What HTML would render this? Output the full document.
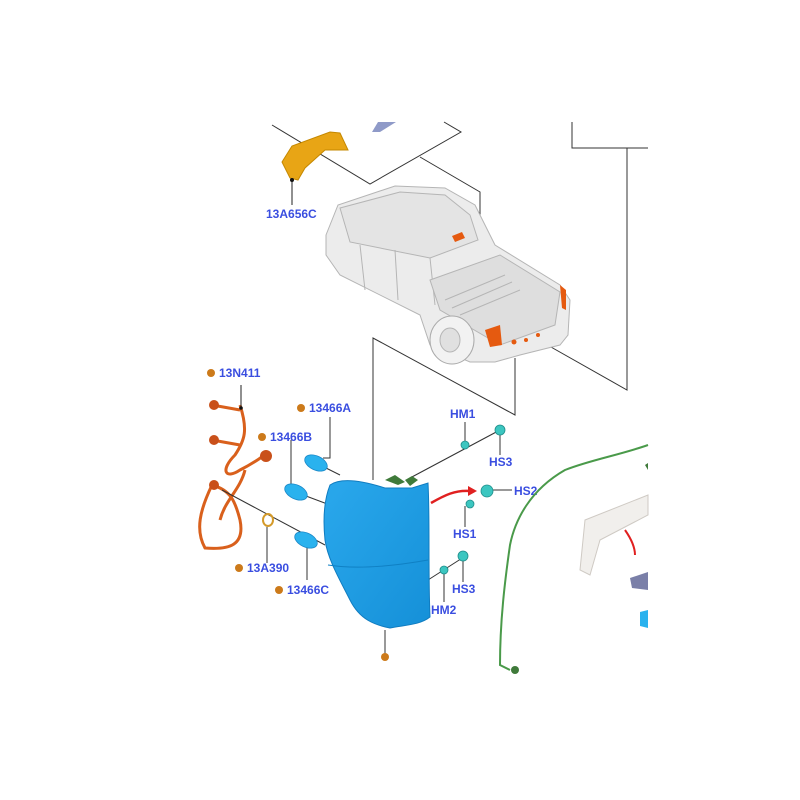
<!DOCTYPE html>
<html><head><style>
html,body{margin:0;padding:0;background:#fff;}
svg{display:block}
text{font-family:"Liberation Sans",sans-serif;font-size:12px;font-weight:bold;fill:#3a4ee0}
</style></head><body>
<svg width="800" height="800" viewBox="0 0 800 800" xmlns="http://www.w3.org/2000/svg">
<defs>
<linearGradient id="bl" x1="0" y1="0" x2="1" y2="1"><stop offset="0" stop-color="#2aa8ec"/><stop offset="1" stop-color="#1590d8"/></linearGradient>
</defs>
<g stroke="#333" stroke-width="1" fill="none">
<polyline points="272,125 370,184 461,132 444,122"/>
<polyline points="420,157 480,192 480,253 458,240"/>
<polyline points="572,122 572,148 648,148"/>
<polyline points="627,148 627,390 535,338"/>
<polyline points="373,480 373,338 515,415 515,358"/>
</g>
<path d="M372,132 L378,122 L396,122 L380,132Z" fill="#8f9ac8"/>
<path d="M282,162 L292,146 L330,132 L340,133 L348,150 L325,150 L305,168 L298,180 L290,178Z" fill="#e8a515" stroke="#c58800" stroke-width="1"/>
<line x1="292" y1="180" x2="292" y2="205" stroke="#222"/>
<circle cx="292" cy="180" r="2" fill="#111"/>
<text x="266" y="218">13A656C</text>
<!-- truck -->
<g fill="#ececec" stroke="#b5b5b5" stroke-width="1">
<path d="M326,235 L338,205 L395,186 L445,188 L475,205 L495,245 L560,285 L570,300 L568,335 L560,345 L520,355 L495,362 L470,362 L430,345 L420,315 L340,275 L326,255Z"/>
<path d="M340,208 L400,192 L445,195 L470,215 L478,240 L430,258 L350,242Z" fill="#e4e4e4"/>
<path d="M360,245 L365,290 M395,250 L398,300 M430,258 L435,305" fill="none"/>
<path d="M430,280 L500,255 L560,292 L555,325 L500,345 L440,310Z" fill="#dedede"/>
<path d="M445,300 L505,275 M452,308 L512,282 M460,315 L520,290" fill="none"/>
<ellipse cx="452" cy="340" rx="22" ry="24" fill="#f2f2f2" stroke="#aaa"/>
<ellipse cx="450" cy="340" rx="10" ry="12" fill="#e0e0e0"/>
</g>
<path d="M452,236 L462,232 L465,238 L455,242Z" fill="#e55a10"/>
<path d="M485,330 L500,325 L502,345 L490,347Z" fill="#e55a10"/>
<path d="M560,285 L566,290 L566,310 L562,308Z" fill="#e55a10"/>
<circle cx="514" cy="342" r="2.5" fill="#e55a10"/><circle cx="526" cy="340" r="2" fill="#e55a10"/><circle cx="538" cy="335" r="2" fill="#e55a10"/>
<!-- harness -->
<g fill="none" stroke="#d9601c" stroke-width="3">
<path d="M240,405 C248,430 245,440 235,455 C220,470 225,480 240,470 C260,460 262,455 268,455"/>
<path d="M212,405 L240,410"/><path d="M212,440 L240,445"/>
<path d="M212,485 C230,490 235,500 240,520 C245,545 230,550 205,548 C195,530 200,510 212,485"/>
<path d="M245,470 C240,490 225,500 220,520"/>
</g>
<g fill="#c9501a"><circle cx="214" cy="405" r="5"/><circle cx="214" cy="440" r="5"/><circle cx="214" cy="485" r="5"/><circle cx="266" cy="456" r="6"/></g>
<line x1="241" y1="385" x2="241" y2="408" stroke="#222"/><circle cx="241" cy="408" r="1.8" fill="#111"/>
<circle cx="211" cy="373" r="4" fill="#cc7a1a"/><text x="219" y="377">13N411</text>
<g stroke="#333" stroke-width="1">
<line x1="222" y1="490" x2="325" y2="545"/>
<line x1="290" y1="490" x2="330" y2="505"/>
<line x1="320" y1="465" x2="340" y2="475"/>
<line x1="410" y1="478" x2="500" y2="430"/>
<line x1="428" y1="580" x2="467" y2="555"/>
<polyline points="323,458 330,458 330,417" fill="none"/>
<line x1="291" y1="440" x2="291" y2="488"/>
<line x1="307" y1="546" x2="307" y2="580"/>
<line x1="267" y1="527" x2="267" y2="563"/>
<line x1="385" y1="630" x2="385" y2="655"/>
<line x1="465" y1="422" x2="465" y2="445"/>
<line x1="500" y1="432" x2="500" y2="455"/>
<line x1="492" y1="490" x2="512" y2="490"/>
<line x1="465" y1="506" x2="465" y2="527"/>
<line x1="444" y1="573" x2="444" y2="602"/>
<line x1="463" y1="560" x2="463" y2="582"/>
</g>
<circle cx="301" cy="408" r="4" fill="#cc7a1a"/><text x="309" y="412">13466A</text>
<circle cx="262" cy="437" r="4" fill="#cc7a1a"/><text x="270" y="441">13466B</text>
<circle cx="239" cy="568" r="4" fill="#cc7a1a"/><text x="247" y="572">13A390</text>
<circle cx="279" cy="590" r="4" fill="#cc7a1a"/><text x="287" y="594">13466C</text>
<circle cx="385" cy="657" r="4" fill="#cc7a1a"/>
<g fill="#2ab2ee" stroke="#1a88c8" stroke-width="0.8">
<ellipse cx="316" cy="463" rx="12" ry="7" transform="rotate(25 316 463)"/>
<ellipse cx="296" cy="492" rx="12" ry="7" transform="rotate(25 296 492)"/>
<ellipse cx="306" cy="540" rx="12" ry="7" transform="rotate(25 306 540)"/>
</g>
<ellipse cx="268" cy="520" rx="5" ry="6" fill="none" stroke="#d49a2a" stroke-width="2"/>
<path d="M385,480 L395,475 L405,482 L398,485Z" fill="#3f7a3a"/>
<path d="M405,480 L412,476 L418,480 L410,486Z" fill="#3f7a3a"/>
<path d="M330,485 C340,478 360,480 385,488 L412,488 L428,483 C430,520 428,570 430,617 C420,625 405,625 390,628 C375,625 360,620 350,600 C340,580 328,560 325,540 C323,520 324,500 330,485Z" fill="url(#bl)" stroke="#107cc0" stroke-width="1"/>
<path d="M328,565 C360,570 400,565 428,560" stroke="#0f80c4" fill="none"/>
<g fill="#3cc6c0" stroke="#1f8d8a" stroke-width="0.8">
<circle cx="465" cy="445" r="4"/><circle cx="500" cy="430" r="5"/>
<circle cx="487" cy="491" r="6"/><circle cx="470" cy="504" r="4"/>
<circle cx="444" cy="570" r="4"/><circle cx="463" cy="556" r="5"/>
</g>
<path d="M431,503 C445,495 455,490 470,491" stroke="#e02020" stroke-width="2.5" fill="none"/>
<path d="M468,486 L477,491 L468,496Z" fill="#e02020"/>
<text x="450" y="418">HM1</text><text x="489" y="466">HS3</text>
<text x="514" y="495">HS2</text><text x="453" y="538">HS1</text>
<text x="452" y="593">HS3</text><text x="431" y="614">HM2</text>
<path d="M648,445 C620,455 590,460 565,470 C530,490 515,520 510,545 C505,580 500,620 500,665 L510,670" stroke="#4a9a4a" stroke-width="2" fill="none"/>
<circle cx="515" cy="670" r="4" fill="#3f7a3a"/>
<path d="M585,520 L648,495 L648,515 L600,540 L590,575 L580,570Z" fill="#f1efec" stroke="#cfcac4"/>
<path d="M625,530 C632,540 635,548 635,555" stroke="#e02020" stroke-width="2" fill="none"/>
<path d="M630,578 L648,572 L648,590 L632,588Z" fill="#7a7fa8"/>
<path d="M640,612 L648,610 L648,628 L640,626Z" fill="#2ab2ee"/>
<path d="M645,465 L648,463 L648,470Z" fill="#3f7a3a"/>
</svg>
</body></html>
